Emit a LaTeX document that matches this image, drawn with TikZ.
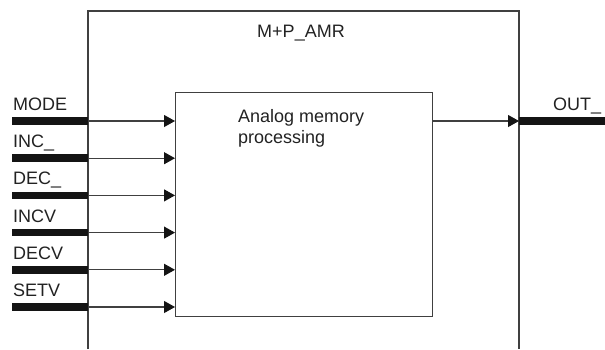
\documentclass[tikz,border=0pt]{standalone}
\usepackage{fontspec}
\setmainfont{Liberation Sans}
\usetikzlibrary{positioning,arrows.meta,calc}

\definecolor{linegray}{HTML}{404040}
\definecolor{barblack}{HTML}{141414}
\definecolor{textgray}{HTML}{222222}

\tikzset{
  box/.style={draw=linegray, line width=1.1pt},
  bus/.style={draw=barblack, line width=7.5pt},
  sig/.style={draw=linegray, line width=1.1pt, -{Triangle[length=11pt,width=12pt,color=barblack]}},
  lbl/.style={font=\fontsize{18}{21}\selectfont, text=textgray, inner sep=0pt, anchor=base west},
}

\begin{document}
\begin{tikzpicture}[x=1pt,y=-1pt]
    \useasboundingbox (0,0) rectangle (605,349);
    % function block, open at the bottom
    \draw[box] (88,349) |- (519,11) -- (519,349);
    \node[lbl, anchor=base] (fbname) at (301,37) {M+P\_AMR};
    \node[box, minimum width=257pt, minimum height=224pt, inner sep=0pt, anchor=north west] (proc) at (175,92) {};
    \node[lbl, align=left, anchor=north west] (proctxt) at (238,109.5) {Analog memory\\processing};
    % inputs
    \foreach \name [count=\i from 0] in {MODE,INC\_,DEC\_,INCV,DECV,SETV} {
        \pgfmathsetmacro\yy{121+37.2*\i}
        \coordinate (bus\i) at (12,\yy);
        \coordinate (in\i) at (88,\yy);
        \draw[bus] (bus\i) -- (in\i);
        \node[lbl] (lbl\i) at (13,\yy-10.5) {\name};
        \draw[sig] (in\i) -- (in\i -| proc.west);
    }
    % output
    \coordinate (out) at (519,121);
    \coordinate (busout) at (605,121);
    \draw[sig] (proc.east |- out) -- (out);
    \draw[bus] (out) -- (busout);
    \node[lbl] (lblout) at (553,110) {OUT\_};
\end{tikzpicture}
\end{document}
